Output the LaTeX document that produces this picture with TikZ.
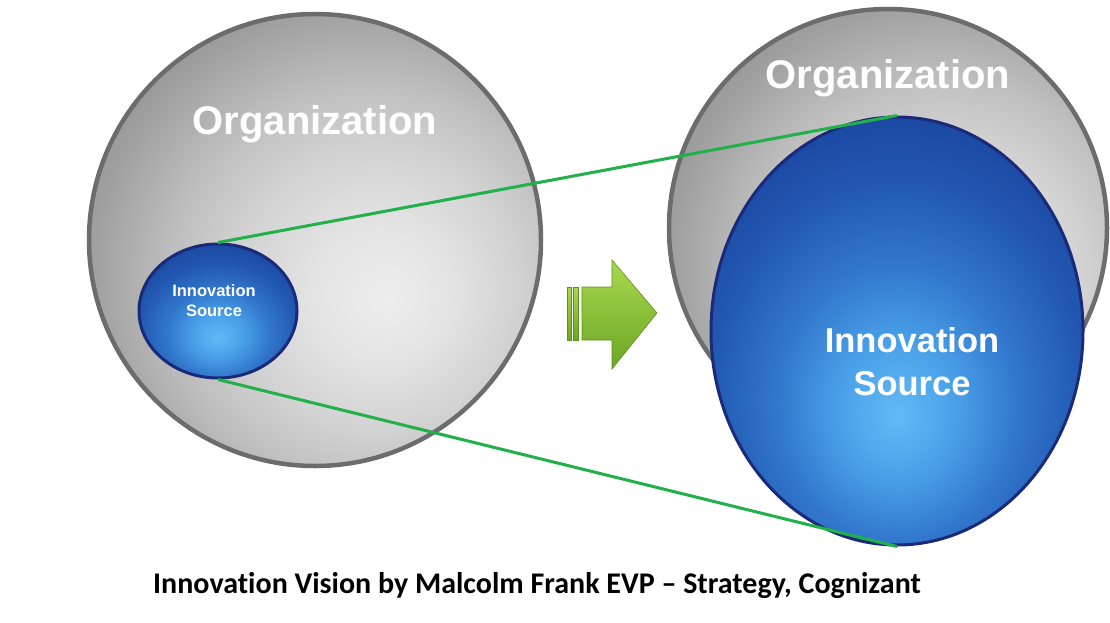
\documentclass[tikz,border=0pt]{standalone}
\usepackage{fontspec}
\setmainfont{Liberation Sans}
\newfontfamily\calib[Ligatures=NoCommon]{Carlito}
\usetikzlibrary{shapes.geometric}
\definecolor{ringgray}{HTML}{6C6C6C}
\definecolor{navy}{HTML}{1B2A78}
\definecolor{linegreen}{HTML}{22B04A}
\definecolor{arrowlight}{HTML}{A9D84E}
\definecolor{arrowdark}{HTML}{6BA624}
\definecolor{arrowedge}{HTML}{5E8F22}
\pgfdeclareradialshading{orgshade}{\pgfpoint{8bp}{-6.5bp}}{%
  color(0bp)=(white!93!black); color(8bp)=(white!89!black); color(16bp)=(white!82!black);
  color(22bp)=(white!75!black); color(30bp)=(white!63!black); color(36bp)=(white!55!black);
  color(100bp)=(white!53!black)}
\pgfdeclareradialshading{isshade}{\pgfpoint{0bp}{-10bp}}{%
  color(0bp)=(rgb,255:red,98;green,186;blue,245); color(8bp)=(rgb,255:red,74;green,160;blue,232);
  color(16bp)=(rgb,255:red,50;green,120;blue,205); color(25bp)=(rgb,255:red,34;green,88;blue,178);
  color(35bp)=(rgb,255:red,24;green,66;blue,155); color(100bp)=(rgb,255:red,22;green,60;blue,148)}
\tikzset{
  orgcircle/.style={circle, inner sep=0pt, draw=ringgray, line width=4.5pt, shading=orgshade},
  innov/.style={ellipse, inner sep=0pt, draw=navy, line width=3pt, shading=isshade},
  istext/.style={text=white, align=center, inner sep=0pt},
  orgtext/.style={text=white, font=\bfseries\fontsize{40}{44}\selectfont},
  link/.style={draw=linegreen, line width=3pt},
  caption/.style={font=\calib\bfseries\fontsize{30}{34}\selectfont, text=black}
}
\begin{document}
\begin{tikzpicture}[x=1pt,y=-1pt]
\useasboundingbox[fill=white] (0,0) rectangle (1110,622);
% left organization
\node[orgcircle, minimum size=452pt] (org1) at (315,240) {};
\node[orgtext] (orgl1) at (315,124) {Organization};
\node[innov, minimum width=158pt, minimum height=134pt] (is1) at (218,311) {};
\node[istext, font=\bfseries\fontsize{16.5}{20}\selectfont] (ist1) at (214,301) {Innovation\\Source};
% arrow
\shade[top color=arrowlight, bottom color=arrowdark, draw=arrowedge, line width=0.4pt]
  (567,287) rectangle (571,340);
\shade[top color=arrowlight, bottom color=arrowdark, draw=arrowedge, line width=0.4pt]
  (573,287) rectangle (578,340);
\shade[top color=arrowlight, bottom color=arrowdark, draw=arrowedge, line width=0.6pt]
  (582,287) -- (612,287) -- (612,260) -- (657,313) -- (612,369) -- (612,340) -- (582,340) -- cycle;
\node[inner sep=0pt] (arrow) at (612,313) {};
% right organization
\node[orgcircle, minimum size=438pt] (org2) at (888,228) {};
\node[orgtext] (orgl2) at (888,78) {Organization};
\node[innov, minimum width=372pt, minimum height=428pt] (is2) at (897,331) {};
\node[istext, font=\bfseries\fontsize{34.5}{43}\selectfont] (ist2) at (912,362) {Innovation\\Source};
% links
\draw[link] (is1.north) -- (is2.north);
\draw[link] (is1.south) -- (is2.south);
% caption
\node[caption] (cap) at (537,586) {Innovation Vision by Malcolm Frank EVP – Strategy, Cognizant};
\end{tikzpicture}
\end{document}
